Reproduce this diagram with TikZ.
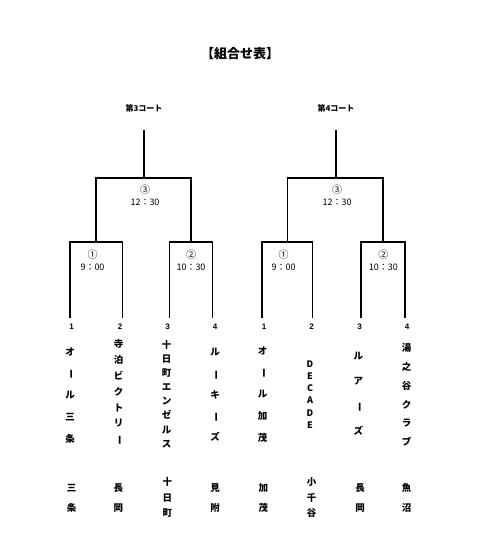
\documentclass[tikz,border=0pt]{standalone}
\usepackage{fontspec}
\usepackage{graphicx}
\setmainfont{Liberation Sans}
\newfontfamily\jp{Noto Sans CJK JP}
\newcommand\vbar{\rotatebox[origin=c]{-90}{ー}}
\tikzset{
  bline/.style={line width=1.3pt, line cap=rect},
  title/.style={font=\jp\bfseries\fontsize{13}{15}\selectfont, inner sep=0pt},
  court/.style={font=\jp\bfseries\fontsize{8}{10}\selectfont, inner sep=0pt},
  circ/.style={font=\jp\fontsize{10}{11}\selectfont, inner sep=0pt},
  tim/.style={font=\jp\fontsize{9}{10}\selectfont, inner sep=0pt},
  seed/.style={font=\bfseries\fontsize{8}{10}\selectfont, inner sep=0pt},
  vname/.style={font=\jp\bfseries\fontsize{9.5}{#1}\selectfont, align=center, inner sep=0pt},
}
\begin{document}
\begin{tikzpicture}[x=1pt,y=-1pt]
\useasboundingbox (0,0) rectangle (480,540);
% title and court headers
\node[title] (title) at (240,54) {【組合せ表】};
\node[court] (c3) at (144,108) {第3コート};
\node[court] (c4) at (336,108) {第4コート};
% ---- court 3 bracket
\coordinate (Ltop) at (144,131);
\coordinate (Lmid) at (144,178);
\coordinate (La) at (96,178);
\coordinate (Lb) at (191,178);
\coordinate (Laj) at (96,242);
\coordinate (Lbj) at (191,242);
\coordinate (L1) at (70,317);
\coordinate (L2) at (122.5,317);
\coordinate (L3) at (169.5,317);
\coordinate (L4) at (212.5,317);
\draw[bline] (Ltop) -- (Lmid);
\draw[bline] (Laj) -- (La) -- (Lb) -- (Lbj);
\draw[bline] (L1) |- (Laj) -| (L2);
\draw[bline] (L3) |- (Lbj) -| (L4);
% ---- court 4 bracket
\coordinate (Rtop) at (336,131);
\coordinate (Rmid) at (336,178);
\coordinate (Ra) at (287.5,178);
\coordinate (Rb) at (383,178);
\coordinate (Raj) at (287.5,242);
\coordinate (Rbj) at (383,242);
\coordinate (R1) at (262,317);
\coordinate (R2) at (312.5,317);
\coordinate (R3) at (361,317);
\coordinate (R4) at (405,317);
\draw[bline] (Rtop) -- (Rmid);
\draw[bline] (Raj) -- (Ra) -- (Rb) -- (Rbj);
\draw[bline] (R1) |- (Raj) -| (R2);
\draw[bline] (R3) |- (Rbj) -| (R4);
% ---- match labels
\node[circ] (m3l) at (145,190) {③};
\node[tim] (t3l) at (145,202.5) {12：30};
\node[circ] (m1l) at (92.5,255) {①};
\node[tim] (t1l) at (92.5,267) {9：00};
\node[circ] (m2l) at (191,255) {②};
\node[tim] (t2l) at (191,267) {10：30};
\node[circ] (m3r) at (337,190) {③};
\node[tim] (t3r) at (337,202.5) {12：30};
\node[circ] (m1r) at (283.5,255) {①};
\node[tim] (t1r) at (283.5,267) {9：00};
\node[circ] (m2r) at (383.3,255) {②};
\node[tim] (t2r) at (383.3,267) {10：30};
% ---- seed numbers
\node[seed] (n1) at (71.5,327) {1};
\node[seed] (n2) at (120,327) {2};
\node[seed] (n3) at (167.5,327) {3};
\node[seed] (n4) at (215,327) {4};
\node[seed] (n5) at (264,327) {1};
\node[seed] (n6) at (311.5,327) {2};
\node[seed] (n7) at (359.5,327) {3};
\node[seed] (n8) at (407,327) {4};
% ---- team names (vertical)
\node[vname=21.9] (team1) at (70,395.5) {オ\\\vbar\\ル\\三\\条};
\node[vname=15.8] (team2) at (118.5,392.5) {寺\\泊\\ビ\\ク\\ト\\リ\\\vbar};
\node[vname=14.1] (team3) at (166.7,394) {十\\日\\町\\エ\\ン\\ゼ\\ル\\ス};
\node[vname=21.2] (team4) at (215,395) {ル\\\vbar\\キ\\\vbar\\ズ};
\node[vname=21.9] (team5) at (262.7,394.5) {オ\\\vbar\\ル\\加\\茂};
\node[vname=12.2, font=\jp\bfseries\fontsize{9}{12.2}\selectfont] (team6) at (310,394.5) {D\\E\\C\\A\\D\\E};
\node[vname=24.9] (team7) at (358.3,393.5) {ル\\ア\\\vbar\\ズ};
\node[vname=18.7] (team8) at (406.7,395) {湯\\之\\谷\\ク\\ラ\\ブ};
% ---- home towns
\node[vname=20] (town1) at (71.7,498.3) {三\\条};
\node[vname=20] (town2) at (118.3,498.3) {長\\岡};
\node[vname=15.8] (town3) at (167.3,497.5) {十\\日\\町};
\node[vname=20] (town4) at (215,498.3) {見\\附};
\node[vname=20] (town5) at (263.3,498.3) {加\\茂};
\node[vname=15.8] (town6) at (311.7,497.5) {小\\千\\谷};
\node[vname=20] (town7) at (360,498.3) {長\\岡};
\node[vname=20] (town8) at (406.7,498.3) {魚\\沼};
\end{tikzpicture}
\end{document}
